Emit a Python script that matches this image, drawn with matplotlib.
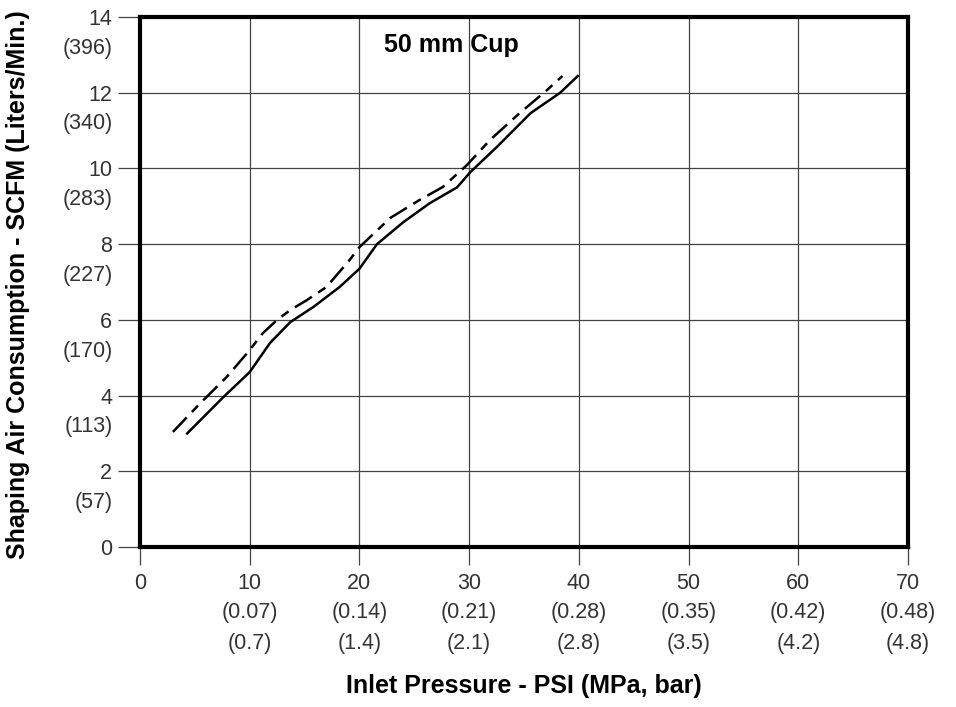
import matplotlib.pyplot as plt

plt.rcParams['font.family'] = ['Liberation Sans', 'DejaVu Sans']

# solid curve
x_solid = [4.3, 7.6, 10.0, 11.85, 13.7, 15.8, 18.2, 20.0, 21.6, 24.0, 26.4, 28.9, 30.1, 32.5, 35.6, 38.3, 39.9]
y_solid = [3.0, 3.96, 4.62, 5.39, 5.94, 6.34, 6.87, 7.35, 8.0, 8.58, 9.08, 9.5, 9.9, 10.56, 11.46, 12.0, 12.44]

# dashed curve
x_dash = [3.0, 5.5, 7.9, 9.85, 11.2, 12.5, 13.7, 15.2, 17.0, 19.1, 20.0, 22.8, 25.5, 27.6, 29.8, 31.9, 34.6, 37.1, 38.5]
y_dash = [3.04, 3.8, 4.49, 5.15, 5.65, 6.0, 6.26, 6.52, 6.87, 7.58, 7.92, 8.69, 9.17, 9.51, 10.09, 10.75, 11.46, 12.07, 12.44]

x_ticks = [0, 10, 20, 30, 40, 50, 60, 70]
x_mpa = ["", "(0.07)", "(0.14)", "(0.21)", "(0.28)", "(0.35)", "(0.42)", "(0.48)"]
x_bar = ["", "(0.7)", "(1.4)", "(2.1)", "(2.8)", "(3.5)", "(4.2)", "(4.8)"]

y_ticks = [0, 2, 4, 6, 8, 10, 12, 14]
y_lpm = ["", "(57)", "(113)", "(170)", "(227)", "(283)", "(340)", "(396)"]

fig = plt.figure(figsize=(9.56, 7.07), dpi=100)
ax = fig.add_axes([140/956, 160/707, 768/956, 530/707])

for xv in x_ticks[1:-1]:
    ax.axvline(xv, color="#444444", lw=0.9, zorder=1)
for yv in y_ticks[1:-1]:
    ax.axhline(yv, color="#444444", lw=0.9, zorder=1)

ax.plot(x_solid, y_solid, color="black", lw=1.8, zorder=3)
ax.plot(x_dash, y_dash, color="black", lw=1.8, dashes=(8, 3, 3.5, 3), zorder=3)

ax.set_xlim(0, 70)
ax.set_ylim(0, 14)
for s in ax.spines.values():
    s.set_linewidth(3)

lbl_size = 15.5
lbl_col = "#333333"
ax.set_xticks(x_ticks)
ax.set_xticklabels([str(v) for v in x_ticks], fontsize=lbl_size, color=lbl_col)
ax.set_yticks(y_ticks)
ax.set_yticklabels([str(v) for v in y_ticks], fontsize=lbl_size, color=lbl_col)
ax.tick_params(axis="x", length=13, width=0.9, pad=6, color="#444444")
ax.tick_params(axis="y", length=16, width=0.9, pad=4, color="#444444")

for xv, a, b in zip(x_ticks, x_mpa, x_bar):
    ax.annotate(a, xy=(xv, 0), xycoords=("data", "axes fraction"),
                xytext=(0, -47.5), textcoords="offset points",
                ha="center", va="center", fontsize=lbl_size, color=lbl_col)
    ax.annotate(b, xy=(xv, 0), xycoords=("data", "axes fraction"),
                xytext=(0, -69.5), textcoords="offset points",
                ha="center", va="center", fontsize=lbl_size, color=lbl_col)

for yv, a in zip(y_ticks, y_lpm):
    ax.annotate(a, xy=(0, yv), xycoords=("axes fraction", "data"),
                xytext=(-19.5, -22.5), textcoords="offset points",
                ha="right", va="center", fontsize=lbl_size, color=lbl_col)

fig.text(524/956, 1 - 686/707, "Inlet Pressure - PSI (MPa, bar)",
         fontsize=18, fontweight="bold", ha="center", va="center")
fig.text(18/956, 1 - 285/707, "Shaping Air Consumption - SCFM (Liters/Min.)",
         fontsize=18, fontweight="bold", ha="center", va="center", rotation=90)

ax.text(28.35, 13.26, "50 mm Cup", fontsize=18, fontweight="bold", ha="center", va="center")

plt.savefig("out.png", dpi=100)
